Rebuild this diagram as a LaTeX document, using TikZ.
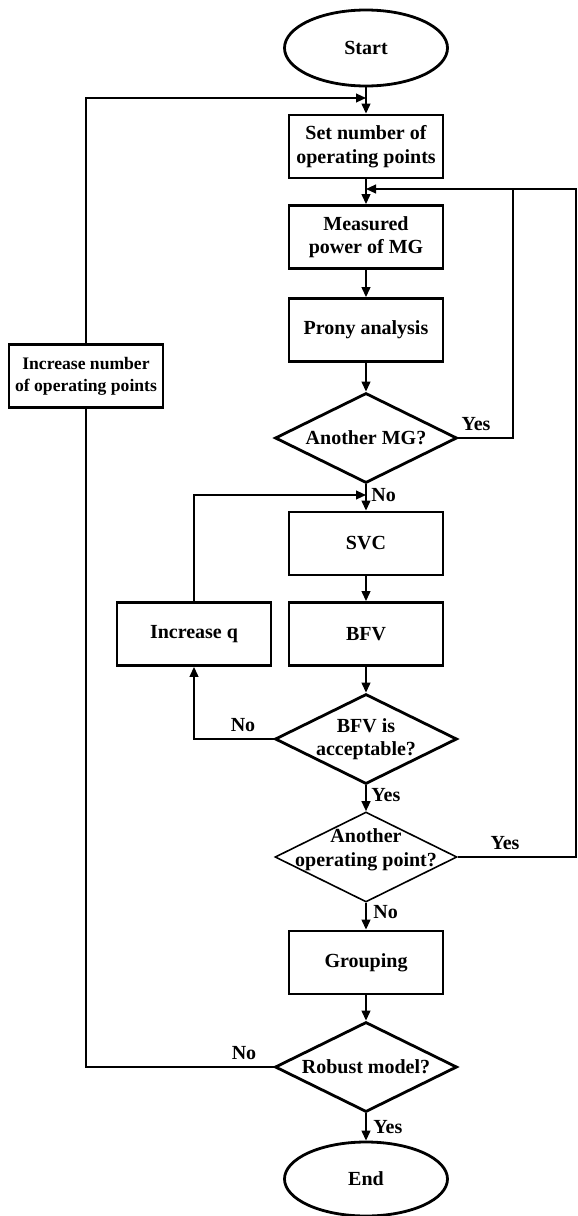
\documentclass[tikz,border=0pt]{standalone}
\usepackage{fontspec}
\setmainfont{Liberation Serif}
\usetikzlibrary{shapes.geometric,arrows.meta}
\tikzset{
 box/.style={draw, line width=1.4pt, minimum width=77pt, minimum height=31.5pt, inner sep=0pt, align=center},
 dia/.style={draw, diamond, line width=1.4pt, minimum width=91pt, minimum height=45pt, inner sep=0pt},
 thindia/.style={dia, line width=0.8pt},
 term/.style={draw, ellipse, line width=1.4pt, minimum width=81.5pt, minimum height=38pt, inner sep=0pt},
 txt/.style={inner sep=0pt, align=center},
 conn/.style={line width=0.85pt},
 arr/.style={conn, -{Triangle[length=5pt,width=4.4pt]}},
 lbl/.style={inner sep=0pt},
}
\begin{document}
\begin{tikzpicture}[x=0.5pt,y=-0.5pt,font=\fontsize{10}{11.8}\selectfont\bfseries]
\useasboundingbox (0,0) rectangle (578,1216);
% nodes
\node[term] (start) at (366,48) {Start};
\node[box] (set) at (366,146.5) {Set number of\\operating points};
\node[box] (meas) at (366,237) {Measured\\power of MG};
\node[box] (prony) at (366,330) {Prony analysis};
\node[dia] (d1) at (366,438) {};
\node[txt] (d1t) at (d1) {Another MG?};
\node[box] (svc) at (366,543.5) {SVC};
\node[box] (bfv) at (366,634) {BFV};
\node[box] (incq) at (194,634) {Increase q};
\node[dia] (d2) at (366,739) {};
\node[txt] (d2t) at (d2) {BFV is\\acceptable?};
\node[thindia] (d3) at (366,857) {};
\node[txt] (d3t) at (366,850) {Another\\operating point?};
\node[box] (grp) at (366,962.5) {Grouping};
\node[dia] (d4) at (366,1067) {};
\node[txt] (d4t) at (d4) {Robust model?};
\node[term, minimum height=37pt] (end) at (366,1179) {End};
\node[box, font=\fontsize{8.8}{11}\selectfont\bfseries] (inc) at (86,376) {Increase number\\of operating points};
% junctions
\coordinate (j1) at (366,98);
\coordinate (j2) at (366,189);
\coordinate (j3) at (366,495);
\coordinate (r1) at (513,189);
\coordinate (r2) at (576,857);
% connectors
\draw[arr] (start) -- (set);
\draw[arr] (set) -- (meas);
\draw[arr] (meas) -- (prony);
\draw[arr] (prony) -- (d1);
\draw[arr] (d1) -- (svc);
\draw[arr] (svc) -- (bfv);
\draw[arr] (bfv) -- (d2);
\draw[arr] (d2) -- (d3);
\draw[arr] (d3) -- (grp);
\draw[arr] (grp) -- (d4);
\draw[arr] (d4) -- (end);
\draw[arr] (inc.north) |- (j1);
\draw[conn] (d1.east) -| (r1);
\draw[arr] (d3.east) -- (r2) |- (j2);
\draw[arr] (incq.north) |- (j3);
\draw[arr] (d2.west) -| (incq.south);
\draw[conn] (d4.west) -| (inc.south);
% labels
\node[lbl] (y1) at (476,424) {Yes};
\node[lbl, anchor=west] (n1) at (371,495) {No};
\node[lbl] (n2) at (243,725) {No};
\node[lbl, anchor=west] (y2) at (371,795) {Yes};
\node[lbl] (y3) at (505,843) {Yes};
\node[lbl, anchor=west] (n3) at (373,912) {No};
\node[lbl] (n4) at (244,1053) {No};
\node[lbl, anchor=west] (y4) at (373,1127) {Yes};
\end{tikzpicture}
\end{document}
